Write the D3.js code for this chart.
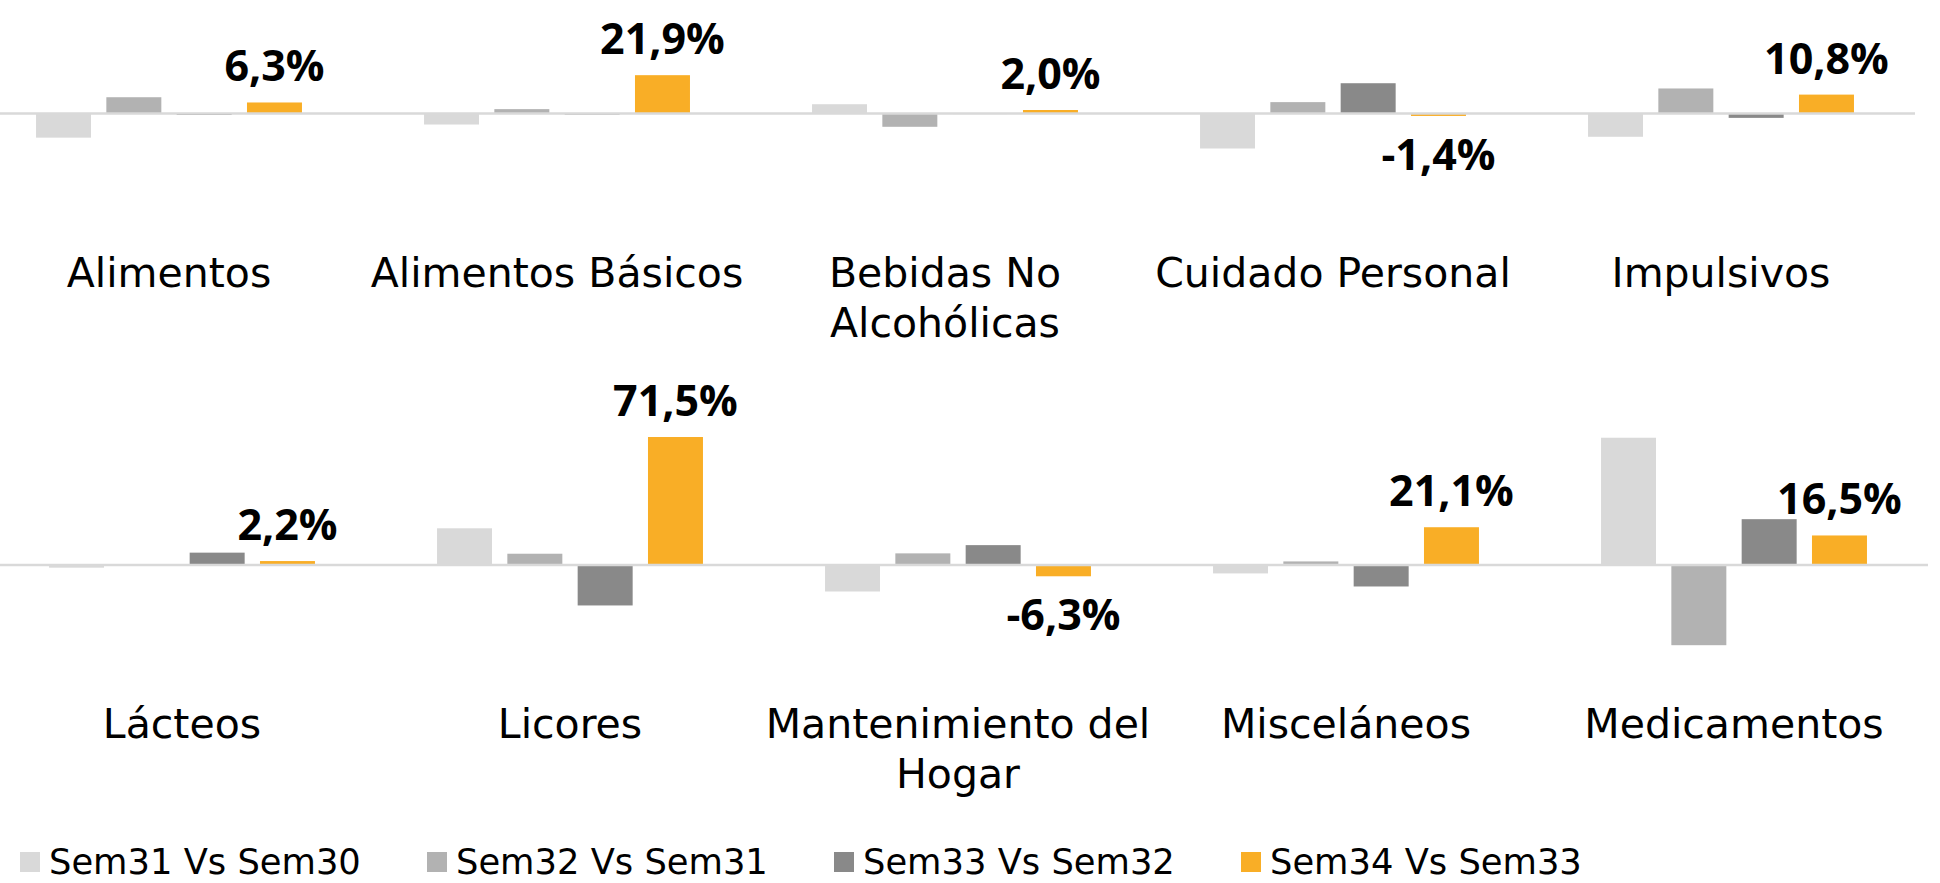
<!DOCTYPE html>
<html>
<head>
<meta charset="utf-8">
<script src="https://cdn.jsdelivr.net/npm/d3@7/dist/d3.min.js"></script>
<style>
  html, body { margin: 0; padding: 0; background: #ffffff; }
  svg { display: block; }
</style>
</head>
<body>
<svg id="chart" width="1940" height="883"></svg>
<script>
// ---------- data ----------
const seriesNames = ["Sem31 Vs Sem30", "Sem32 Vs Sem31", "Sem33 Vs Sem32", "Sem34 Vs Sem33"];
const seriesColors = ["#d9d9d9", "#b2b2b2", "#898989", "#f9ae26"];

const topCategories = ["Alimentos", "Alimentos Básicos", "Bebidas No Alcohólicas", "Cuidado Personal", "Impulsivos"];
const bottomCategories = ["Lácteos", "Licores", "Mantenimiento del Hogar", "Misceláneos", "Medicamentos"];

// values in %, one array per series, ordered: top categories then bottom categories
const sem31 = [-13.8, -6.3, 5.3, -20.0, -13.3, -1.5, 20.5, -14.8, -4.7, 71.1];
const sem32 = [9.3, 2.5, -7.6, 6.5, 14.3, 0.0, 6.3, 6.5, 2.0, -44.8];
const sem33 = [-0.8, -0.6, -0.3, 17.3, -2.5, 6.9, -22.6, 11.1, -12.0, 25.6];
const sem34 = [6.3, 21.9, 2.0, -1.4, 10.8, 2.2, 71.5, -6.3, 21.1, 16.5];

const seriesValues = [sem31, sem32, sem33, sem34];

// ---------- layout ----------
const svg = d3.select("#chart");
const fmt = d3.formatLocale({ decimal: ",", thousands: ".", grouping: [3], currency: ["", ""], minus: "-" }).format(".1f");

const panels = [
  { cats: topCategories, offset: 0, xRange: [-25, 1915], y0: 113.5, domain: [-40, 40], pxRange: 80 * 1.75 },
  { cats: bottomCategories, offset: 5, xRange: [-12, 1928], y0: 565, domain: [-50, 80], pxRange: 130 * 1.79 }
];

panels.forEach(p => {
  const g = svg.append("g");
  const x0 = d3.scaleBand().domain(p.cats).range(p.xRange).padding(0);
  const x1 = d3.scaleBand().domain(seriesNames).range([0, x0.bandwidth()])
    .paddingInner(0.218).paddingOuter(0.868);
  const top = p.y0 - (p.domain[1] / (p.domain[1] - p.domain[0])) * p.pxRange;
  const y = d3.scaleLinear().domain(p.domain).range([top + p.pxRange, top]);

  const rows = [];
  p.cats.forEach((c, i) => {
    seriesNames.forEach((s, j) => {
      rows.push({ cat: c, series: s, j: j, value: seriesValues[j][p.offset + i] });
    });
  });

  g.selectAll("rect.bar").data(rows).join("rect")
    .attr("class", "bar")
    .attr("x", d => x0(d.cat) + x1(d.series))
    .attr("width", x1.bandwidth())
    .attr("y", d => Math.min(y(d.value), y(0)))
    .attr("height", d => Math.abs(y(d.value) - y(0)))
    .attr("fill", d => seriesColors[d.j]);

  // zero line
  g.append("line")
    .attr("x1", Math.max(0, p.xRange[0])).attr("x2", p.xRange[1])
    .attr("y1", y(0)).attr("y2", y(0))
    .attr("stroke", "#d9d9d9").attr("stroke-width", 2.5);

  // data labels for last series
  const last = rows.filter(d => d.j === 3);
  g.selectAll("text.val").data(last).join("text")
    .attr("class", "val")
    .attr("x", d => x0(d.cat) + x1(d.series) + x1.bandwidth() / 2)
    .attr("y", d => d.value >= 0 ? y(d.value) - 21 : y(d.value) + 54)
    .attr("text-anchor", "middle")
    .attr("font-family", "'Open Sans', sans-serif")
    .attr("font-weight", 700)
    .attr("font-size", 43)
    .attr("fill", "#000")
    .text(d => fmt(d.value) + "%");

  // category labels (wrapped)
  const labels = g.selectAll("text.cat").data(p.cats).join("text")
    .attr("class", "cat")
    .attr("x", d => x0(d) + x0.bandwidth() / 2)
    .attr("y", y(0) + 173)
    .attr("text-anchor", "middle")
    .attr("font-family", "'DejaVu Sans', sans-serif")
    .attr("font-size", 41)
    .attr("fill", "#000");
  labels.each(function (d) {
    const t = d3.select(this);
    const words = d.split(" ");
    const cx = +t.attr("x");
    let line = [];
    let tspan = t.append("tspan").attr("x", cx).attr("dy", 0);
    words.forEach(w => {
      line.push(w);
      tspan.text(line.join(" "));
      if (tspan.node().getComputedTextLength() > 400 && line.length > 1) {
        line.pop();
        tspan.text(line.join(" "));
        line = [w];
        tspan = t.append("tspan").attr("x", cx).attr("dy", 50).text(w);
      }
    });
  });
});

// ---------- legend ----------
const legendX = d3.scaleBand().domain(seriesNames).range([20, 20 + 4 * 407]);
const lg = svg.append("g");
const items = lg.selectAll("g.item").data(seriesNames).join("g")
  .attr("class", "item")
  .attr("transform", d => `translate(${legendX(d)},0)`);
items.append("rect")
  .attr("x", 0).attr("y", 852).attr("width", 20).attr("height", 20)
  .attr("fill", (d, i) => seriesColors[i]);
items.append("text")
  .attr("x", 29).attr("y", 874)
  .attr("font-family", "'DejaVu Sans', sans-serif")
  .attr("font-size", 35.3)
  .attr("fill", "#000")
  .text(d => d);
</script>
</body>
</html>
